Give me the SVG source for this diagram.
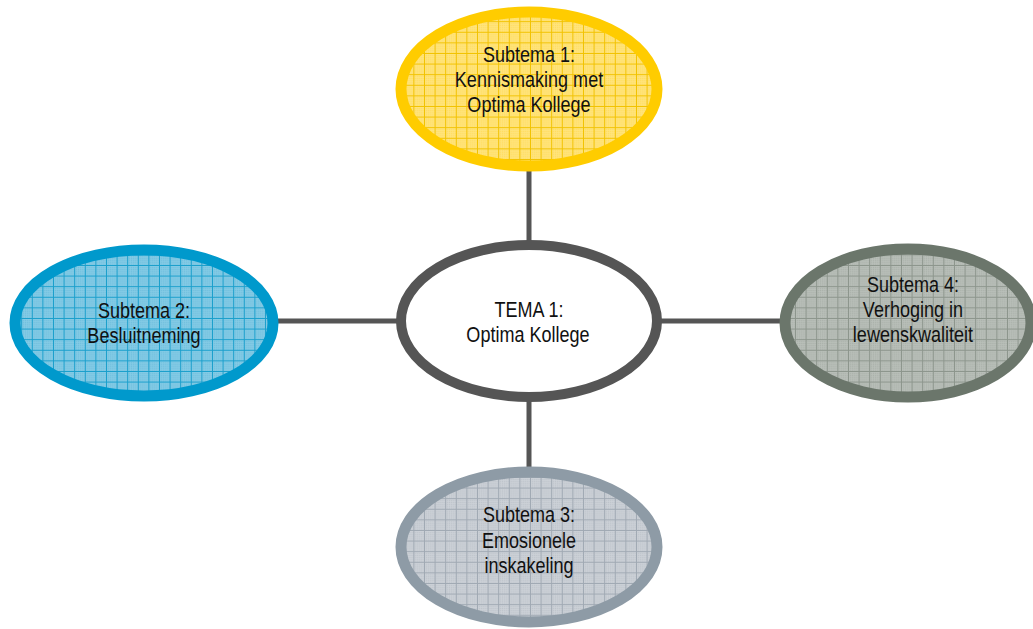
<svg xmlns="http://www.w3.org/2000/svg" width="1033" height="629" viewBox="0 0 1033 629">
<style>
.lbl{font-family:"Liberation Sans",Arial,sans-serif;font-size:22px;fill:#111;text-anchor:middle}
.conn{stroke:#555555;stroke-width:5;fill:none}
</style>
<defs>
<pattern id="dY" width="2" height="2" patternUnits="userSpaceOnUse"><rect width="2" height="2" fill="#FFE580"/><rect width="1" height="1" fill="#FFDC5E"/></pattern>
<pattern id="gY" width="10.6" height="10.6" patternUnits="userSpaceOnUse"><rect width="10.6" height="10.6" fill="url(#dY)"/><path d="M0 0.5H10.6M0.5 0V10.6" stroke="#F2C200" stroke-width="1"/></pattern>
<pattern id="dB" width="2" height="2" patternUnits="userSpaceOnUse"><rect width="2" height="2" fill="#86CCE6"/><rect width="1" height="1" fill="#6FBEDD"/></pattern>
<pattern id="gB" width="10.6" height="10.6" patternUnits="userSpaceOnUse"><rect width="10.6" height="10.6" fill="url(#dB)"/><path d="M0 0.5H10.6M0.5 0V10.6" stroke="#1A9FCC" stroke-width="1"/></pattern>
<pattern id="dG" width="2" height="2" patternUnits="userSpaceOnUse"><rect width="2" height="2" fill="#BAC0BA"/><rect width="1" height="1" fill="#A9B0A9"/></pattern>
<pattern id="gG" width="10.6" height="10.6" patternUnits="userSpaceOnUse"><rect width="10.6" height="10.6" fill="url(#dG)"/><path d="M0 0.5H10.6M0.5 0V10.6" stroke="#8C958C" stroke-width="1"/></pattern>
<pattern id="dS" width="2" height="2" patternUnits="userSpaceOnUse"><rect width="2" height="2" fill="#CDD2D8"/><rect width="1" height="1" fill="#BDC3CA"/></pattern>
<pattern id="gS" width="10.6" height="10.6" patternUnits="userSpaceOnUse"><rect width="10.6" height="10.6" fill="url(#dS)"/><path d="M0 0.5H10.6M0.5 0V10.6" stroke="#A0A9B3" stroke-width="1"/></pattern>
</defs>
<rect width="1033" height="629" fill="#FFFFFF"/>
<g id="connectors">
<line class="conn" x1="529" y1="166" x2="529" y2="244"/>
<line class="conn" x1="272" y1="321" x2="400" y2="321"/>
<line class="conn" x1="658" y1="321" x2="785" y2="321"/>
<line class="conn" x1="529" y1="398" x2="529" y2="472"/>
</g>
<g id="center">
<ellipse cx="529" cy="321" rx="128" ry="76" fill="#FFFFFF" stroke="#555555" stroke-width="10"/>
<text class="lbl" transform="matrix(0.82 0 0 1 529 0)" x="0" y="317">TEMA 1:</text>
<text class="lbl" transform="matrix(0.82 0 0 1 528 0)" x="0" y="342">Optima Kollege</text>
</g>
<g id="subtema1">
<ellipse cx="529" cy="89" rx="128" ry="77" fill="url(#gY)" stroke="#FFCC00" stroke-width="11"/>
<text class="lbl" transform="matrix(0.82 0 0 1 529 0)" x="0" y="62">Subtema 1:</text>
<text class="lbl" transform="matrix(0.82 0 0 1 529 0)" x="0" y="87">Kennismaking met</text>
<text class="lbl" transform="matrix(0.82 0 0 1 529 0)" x="0" y="112">Optima Kollege</text>
</g>
<g id="subtema2">
<ellipse cx="144" cy="323" rx="129" ry="73" fill="url(#gB)" stroke="#0099CC" stroke-width="11"/>
<text class="lbl" transform="matrix(0.82 0 0 1 144 0)" x="0" y="318">Subtema 2:</text>
<text class="lbl" transform="matrix(0.82 0 0 1 144 0)" x="0" y="343">Besluitneming</text>
</g>
<g id="subtema4">
<ellipse cx="908" cy="323" rx="123" ry="74" fill="url(#gG)" stroke="#6B766B" stroke-width="11"/>
<text class="lbl" transform="matrix(0.82 0 0 1 913 0)" x="0" y="292">Subtema 4:</text>
<text class="lbl" transform="matrix(0.82 0 0 1 913 0)" x="0" y="317">Verhoging in</text>
<text class="lbl" transform="matrix(0.82 0 0 1 913 0)" x="0" y="342">lewenskwaliteit</text>
</g>
<g id="subtema3">
<ellipse cx="529" cy="547" rx="128" ry="75" fill="url(#gS)" stroke="#8E9BA6" stroke-width="11"/>
<text class="lbl" transform="matrix(0.82 0 0 1 529 0)" x="0" y="522">Subtema 3:</text>
<text class="lbl" transform="matrix(0.82 0 0 1 529 0)" x="0" y="548">Emosionele</text>
<text class="lbl" transform="matrix(0.82 0 0 1 529 0)" x="0" y="573">inskakeling</text>
</g>
</svg>
